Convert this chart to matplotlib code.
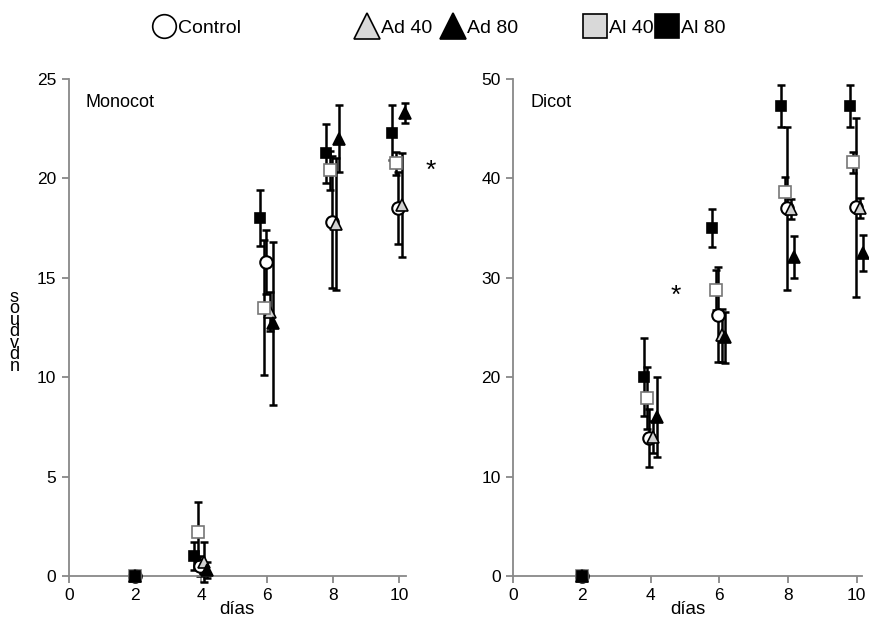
import matplotlib
matplotlib.use('Agg')
import matplotlib.pyplot as plt
from matplotlib.lines import Line2D

plt.rcParams['font.family'] = ['Liberation Sans', 'DejaVu Sans']
plt.rcParams['font.size'] = 12

days = [2, 4, 6, 8, 10]
groups = ['Al 80', 'Al 40', 'Control', 'Ad 40', 'Ad 80']

# Monocot means / errors
mono = {
    'Al 80':   [0, 1.0, 18.0, 21.25, 22.3],
    'Al 40':   [0, 2.2, 13.5, 20.4, 20.75],
    'Control': [0, 0.5, 15.8, 17.8, 18.5],
    'Ad 40':   [0, 0.7, 13.3, 17.7, 18.65],
    'Ad 80':   [0, 0.3, 12.7, 22.0, 23.3],
}
mono_err = {
    'Al 80':   [0, 0.7, 1.4, 1.5, 1.4],
    'Al 40':   [0, 1.5, 3.4, 1.0, 0.6],
    'Control': [0, 0.5, 1.6, 3.3, 1.8],
    'Ad 40':   [0, 1.0, 1.0, 3.3, 2.6],
    'Ad 80':   [0, 0.4, 4.1, 1.7, 0.5],
}
# Dicot means / errors
dico = {
    'Al 80':   [0, 20.0, 35.0, 47.3, 47.3],
    'Al 40':   [0, 17.9, 28.8, 38.6, 41.6],
    'Control': [0, 13.9, 26.3, 37.0, 37.1],
    'Ad 40':   [0, 14.0, 24.2, 36.9, 37.0],
    'Ad 80':   [0, 16.0, 24.0, 32.1, 32.5],
}
dico_err = {
    'Al 80':   [0, 3.9, 1.9, 2.1, 2.1],
    'Al 40':   [0, 3.1, 2.0, 1.5, 1.1],
    'Control': [0, 2.9, 4.8, 8.2, 9.0],
    'Ad 40':   [0, 1.6, 2.7, 1.0, 1.0],
    'Ad 80':   [0, 4.0, 2.6, 2.1, 1.8],
}

offsets = {'Al 80': -0.2, 'Al 40': -0.1, 'Control': -0.03, 'Ad 40': 0.08, 'Ad 80': 0.18}
styles = {
    'Control': dict(marker='o', mfc='white', mec='black', ms=9, mew=1.5),
    'Ad 40':   dict(marker='^', mfc='#d0d0d0', mec='black', ms=9, mew=1.2),
    'Ad 80':   dict(marker='^', mfc='black', mec='black', ms=9, mew=1.2),
    'Al 40':   dict(marker='s', mfc='white', mec='#777777', ms=8, mew=1.2),
    'Al 80':   dict(marker='s', mfc='black', mec='black', ms=7.5, mew=1.2),
}
order = ['Control', 'Ad 40', 'Al 40', 'Ad 80', 'Al 80']

fig = plt.figure(figsize=(8.7, 6.26), dpi=100)
ax1 = fig.add_axes([0.0793, 0.0799, 0.387, 0.794])
ax2 = fig.add_axes([0.5897, 0.0799, 0.401, 0.794])

def xpos(g):
    # all groups sit on day 2 itself, later days are spread apart
    return [d if d == 2 else d + offsets[g] for d in days]

def panel(ax, vals, errs, ymax, ystep, xmax, title):
    for g in order:
        ax.errorbar(xpos(g), vals[g], yerr=errs[g], fmt='none', ecolor='black',
                    elinewidth=1.8, capsize=3, capthick=1.8, zorder=2, clip_on=False)
    for g in order:
        ax.plot(xpos(g), vals[g], linestyle='none', zorder=3, clip_on=False, **styles[g])
    ax.set_xlim(0, xmax)
    ax.set_ylim(0, ymax)
    ax.set_xticks([0, 2, 4, 6, 8, 10])
    ax.set_yticks(range(0, ymax + 1, ystep))
    for s in ['top', 'right']:
        ax.spines[s].set_visible(False)
    for s in ['left', 'bottom']:
        ax.spines[s].set_color('#888888')
        ax.spines[s].set_linewidth(1.3)
    ax.tick_params(direction='out', length=5, width=1.3, color='#888888',
                   labelsize=12.5, pad=4)
    ax.text(0.05, 0.97, title, transform=ax.transAxes, fontsize=13, va='top')
    ax.set_xlabel('días', fontsize=13.5, labelpad=-2)

panel(ax1, mono, mono_err, 25, 5, 10.2, 'Monocot')
panel(ax2, dico, dico_err, 50, 10, 10.15, 'Dicot')

ax1.text(10.95, 20.4, '*', fontsize=19, ha='center', va='center')
ax2.text(4.74, 28.2, '*', fontsize=19, ha='center', va='center')

fig.text(0.011, 0.47, 's\no\nu\nd\nv\nd\nn', fontsize=13, ha='left', va='center',
         linespacing=0.58)

# legend, one entry at a time so the gaps can follow the reference
def h(mk, fc, ms):
    return Line2D([], [], linestyle='none', marker=mk, mfc=fc, mec='black', ms=ms, mew=1.2)

kw = dict(frameon=False, handletextpad=0.15, fontsize=14, borderaxespad=0,
          handlelength=1.2, borderpad=0)
entries = [
    (h('o', 'white', 17), 'Control', 0.175),
    (h('^', '#d9d9d9', 19), 'Ad 40', 0.408),
    (h('^', 'black', 19), 'Ad 80', 0.507),
    (h('s', '#d9d9d9', 17), 'Al 40', 0.670),
    (h('s', 'black', 17), 'Al 80', 0.753),
]
for handle, lab, x0 in entries:
    fig.legend([handle], [lab], loc='center left', bbox_to_anchor=(x0, 0.955), **kw)

fig.savefig('out.png', dpi=100)
